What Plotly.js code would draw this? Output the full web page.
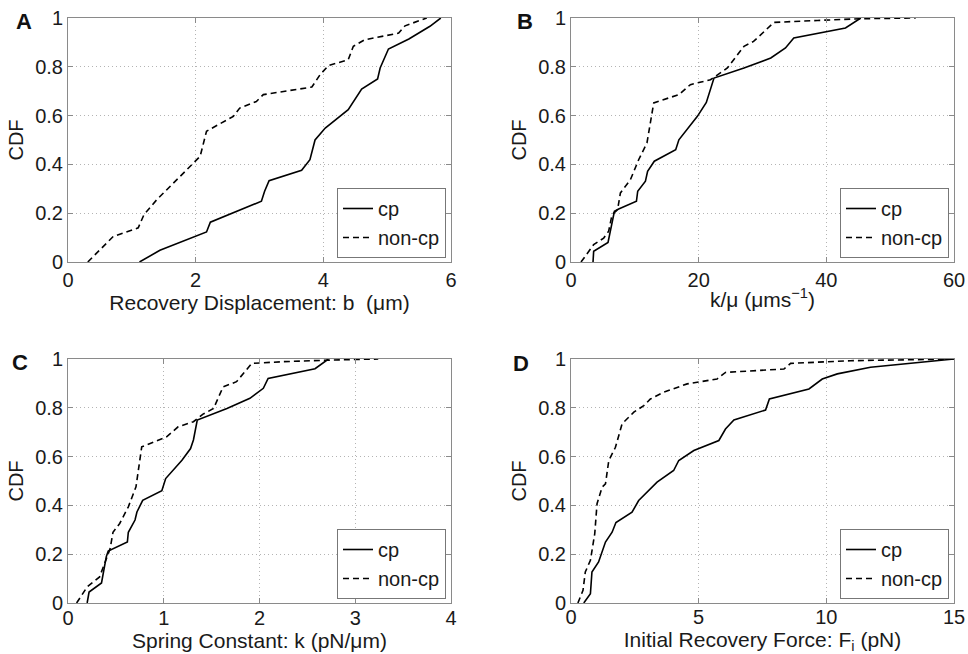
<!DOCTYPE html>
<html>
<head>
<meta charset="utf-8">
<script src="https://cdn.plot.ly/plotly-3.0.1.min.js"></script>
<style>html,body{margin:0;padding:0;background:#fff;}#chart{width:968px;height:654px;}</style>
</head>
<body>
<div id="chart"></div>
<script>
// Panel A: Recovery Displacement b (um)
const aCpX = [1.12, 1.44, 2.17, 2.23, 3.03, 3.08, 3.15, 3.66, 3.79, 3.87, 4.03, 4.39, 4.60, 4.85, 4.89, 5.02, 5.34, 5.67, 5.84];
const aCpY = [0, 0.048, 0.123, 0.163, 0.249, 0.29, 0.333, 0.376, 0.419, 0.50, 0.549, 0.624, 0.709, 0.75, 0.795, 0.873, 0.914, 0.966, 1.0];
const aNcX = [0.31, 0.55, 0.71, 1.10, 1.19, 1.39, 1.70, 2.07, 2.17, 2.59, 2.69, 2.95, 3.06, 3.82, 3.95, 4.08, 4.39, 4.47, 4.65, 5.18, 5.28, 5.62];
const aNcY = [0, 0.064, 0.105, 0.14, 0.194, 0.255, 0.337, 0.433, 0.536, 0.597, 0.631, 0.658, 0.686, 0.717, 0.768, 0.805, 0.829, 0.884, 0.911, 0.938, 0.968, 1.0];

// Panel B: k/mu (um s^-1)
const bCpX = [3.45, 3.55, 5.8, 6.43, 6.8, 7.47, 10.25, 10.45, 11.66, 12.0, 13.05, 16.4, 16.9, 19.8, 21.2, 22.4, 27.1, 31.3, 33.6, 34.9, 43.0, 45.4];
const bCpY = [0, 0.044, 0.08, 0.16, 0.208, 0.217, 0.249, 0.29, 0.331, 0.372, 0.413, 0.46, 0.501, 0.597, 0.654, 0.754, 0.795, 0.836, 0.877, 0.918, 0.959, 1.0];
const bNcX = [1.57, 3.55, 5.12, 5.9, 6.43, 7.3, 7.74, 9.3, 10.6, 11.9, 12.96, 16.9, 18.7, 21.85, 24.5, 27.1, 28.6, 31.8, 38.6, 45.4, 54.0];
const bNcY = [0, 0.071, 0.098, 0.126, 0.194, 0.215, 0.283, 0.337, 0.419, 0.488, 0.652, 0.686, 0.727, 0.747, 0.795, 0.884, 0.904, 0.982, 0.99, 0.997, 1.0];

// Panel C: Spring constant k (pN/um)
const cCpX = [0.20, 0.22, 0.35, 0.40, 0.42, 0.62, 0.63, 0.70, 0.72, 0.78, 0.98, 1.02, 1.19, 1.28, 1.31, 1.35, 1.66, 1.90, 2.04, 2.09, 2.58, 2.72];
const cCpY = [0, 0.045, 0.082, 0.19, 0.213, 0.25, 0.29, 0.34, 0.373, 0.421, 0.46, 0.51, 0.585, 0.633, 0.668, 0.75, 0.797, 0.839, 0.88, 0.92, 0.96, 1.0];
const cNcX = [0.09, 0.20, 0.33, 0.39, 0.44, 0.47, 0.54, 0.63, 0.71, 0.77, 1.03, 1.15, 1.31, 1.41, 1.52, 1.62, 1.76, 1.92, 2.25, 2.77, 3.24];
const cNcY = [0, 0.066, 0.107, 0.175, 0.223, 0.29, 0.326, 0.394, 0.476, 0.64, 0.681, 0.722, 0.743, 0.774, 0.797, 0.886, 0.907, 0.982, 0.989, 0.996, 1.0];

// Panel D: Initial recovery force Fi (pN)
const dCpX = [0.5, 0.76, 0.82, 1.08, 1.35, 1.61, 1.76, 2.39, 2.65, 3.37, 4.02, 4.22, 4.81, 5.79, 6.05, 6.38, 7.62, 7.77, 9.32, 9.84, 10.43, 11.73, 15.0];
const dCpY = [0, 0.038, 0.127, 0.168, 0.25, 0.29, 0.33, 0.372, 0.42, 0.495, 0.543, 0.584, 0.625, 0.666, 0.713, 0.75, 0.791, 0.836, 0.877, 0.918, 0.939, 0.966, 1.0];
const dNcX = [0.27, 0.47, 0.56, 0.76, 0.93, 1.02, 1.22, 1.35, 1.48, 1.74, 2.0, 2.46, 2.85, 3.11, 3.63, 4.55, 5.72, 6.05, 8.34, 8.6, 10.95, 15.0];
const dNcY = [0, 0.052, 0.127, 0.175, 0.284, 0.407, 0.475, 0.488, 0.584, 0.638, 0.734, 0.782, 0.809, 0.836, 0.864, 0.898, 0.918, 0.945, 0.959, 0.982, 0.993, 1.0];

const seriesNames = ["cp", "non-cp"];
const panelLetters = ["A", "B", "C", "D"];
const xTitles = ["Recovery Displacement: b&nbsp; (μm)", "k/μ (μms<sup>−1</sup>)", "Spring Constant: k (pN/μm)", "Initial Recovery Force: F<sub>i</sub> (pN)"];
const yTitle = "CDF";
const xRanges = [[0, 6], [0, 60], [0, 4], [0, 15]];
const xTicks = [[0, 2, 4, 6], [0, 20, 40, 60], [0, 1, 2, 3, 4], [0, 5, 10, 15]];
const yTicks = [0, 0.2, 0.4, 0.6, 0.8, 1];
const yTickText = ["0", "0.2", "0.4", "0.6", "0.8", "1"];

const panels = [
  [aCpX, aCpY, aNcX, aNcY],
  [bCpX, bCpY, bNcX, bNcY],
  [cCpX, cCpY, cNcX, cNcY],
  [dCpX, dCpY, dNcX, dNcY]
];

const FONT = "Liberation Sans, Arial, Helvetica, sans-serif";
const TXT = "#1a1a1a";
const traces = [];
panels.forEach((p, i) => {
  const sfx = i === 0 ? "" : String(i + 1);
  const leg = i === 0 ? "legend" : "legend" + (i + 1);
  traces.push({x: p[0], y: p[1], type: "scatter", mode: "lines", name: seriesNames[0],
    xaxis: "x" + sfx, yaxis: "y" + sfx, legend: leg,
    line: {color: "#000", width: 1.6}});
  traces.push({x: p[2], y: p[3], type: "scatter", mode: "lines", name: seriesNames[1],
    xaxis: "x" + sfx, yaxis: "y" + sfx, legend: leg,
    line: {color: "#000", width: 1.6, dash: "6px,4px"}});
});

const W = 968, H = 654, ML = 68, MR = 14, MT = 18, MB = 51;
const PW = W - ML - MR, PH = H - MT - MB;
const px = v => (v - ML) / PW;
const py = v => 1 - (v - MT) / PH;

const xDomains = [[px(68), px(451)], [px(571), px(954)], [px(68), px(451)], [px(571), px(954)]];
const yDomains = [[py(262), py(18)], [py(262), py(18)], [py(603), py(359)], [py(603), py(359)]];
const xStandoff = [3, 2, 1, 2];
const xLabelShift = [0, 0, -3, -4];

const layout = {
  width: W, height: H,
  margin: {l: ML, r: MR, t: MT, b: MB, pad: 0},
  paper_bgcolor: "#fff", plot_bgcolor: "#fff",
  font: {family: FONT, size: 20, color: TXT},
  showlegend: true,
  annotations: []
};

const axisCommon = {
  showline: true, mirror: "ticks", linecolor: "#8a8a8a", linewidth: 1,
  ticks: "inside", ticklen: 5, tickcolor: "#8a8a8a", tickwidth: 1,
  showgrid: true, gridcolor: "#b4b4b4", griddash: "1px,3px", gridwidth: 1,
  zeroline: false, tickfont: {family: FONT, size: 20, color: TXT}
};

for (let i = 0; i < 4; i++) {
  const sfx = i === 0 ? "" : String(i + 1);
  layout["xaxis" + sfx] = Object.assign({}, axisCommon, {
    domain: xDomains[i], anchor: "y" + sfx, range: xRanges[i],
    tickmode: "array", tickvals: xTicks[i], ticktext: xTicks[i].map(String),
    ticklabelstandoff: xLabelShift[i],
    title: {text: xTitles[i], font: {family: FONT, size: 21, color: TXT}, standoff: xStandoff[i]}
  });
  layout["yaxis" + sfx] = Object.assign({}, axisCommon, {
    domain: yDomains[i], anchor: "x" + sfx, range: [0, 1],
    tickmode: "array", tickvals: yTicks, ticktext: yTickText,
    title: {text: yTitle, font: {family: FONT, size: 20, color: TXT}, standoff: 6}
  });
  const leg = i === 0 ? "legend" : "legend" + (i + 1);
  const legRight = (i % 2 === 0) ? 446 : 949;
  const legBottom = (i < 2) ? 258 : 599;
  layout[leg] = {
    x: px(legRight), y: py(legBottom), xanchor: "right", yanchor: "bottom",
    xref: "paper", yref: "paper",
    bgcolor: "#fff", bordercolor: "#777", borderwidth: 1,
    font: {family: FONT, size: 20, color: TXT},
    tracegroupgap: 0, itemwidth: 30
  };
}

const letterPos = [[24, 22], [525, 22], [20, 362], [521, 363]];
panelLetters.forEach((L, i) => {
  layout.annotations.push({
    text: "<b>" + L + "</b>", xref: "paper", yref: "paper",
    x: px(letterPos[i][0]), y: py(letterPos[i][1]), xanchor: "center", yanchor: "middle",
    showarrow: false, font: {family: FONT, size: 22, color: "#111"}
  });
});

Plotly.newPlot("chart", traces, layout, {staticPlot: true, displayModeBar: false});
</script>
</body>
</html>
